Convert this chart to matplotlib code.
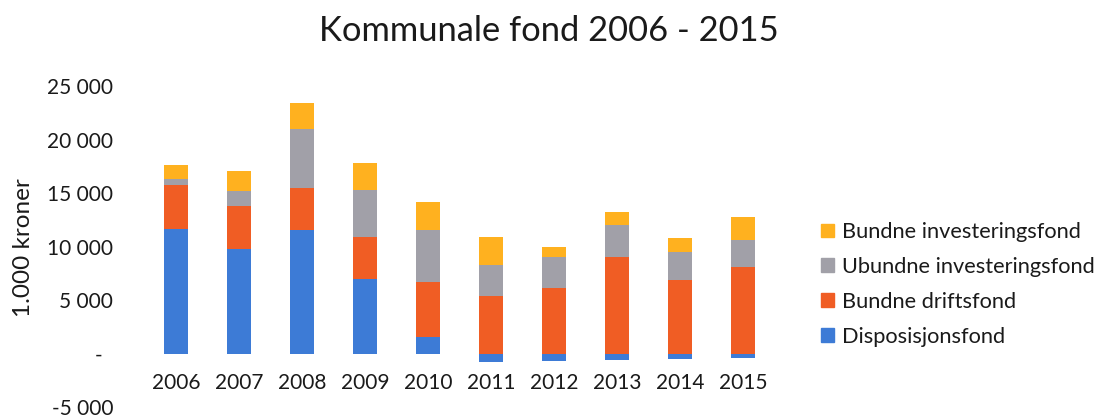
import numpy as np
from matplotlib import pyplot as plt
from matplotlib.patches import Patch

# fund balances per year, in 1.000 kroner
years = ["2006", "2007", "2008", "2009", "2010", "2011", "2012", "2013", "2014", "2015"]
disposisjonsfond = [11600, 9750, 11550, 6950, 1550, -800, -700, -650, -500, -450]
bundne_drift = [4150, 4050, 3950, 3950, 5100, 5350, 6100, 9000, 6850, 8100]
ubundne_inv = [550, 1400, 5450, 4350, 4900, 2900, 2900, 3000, 2650, 2500]
bundne_inv = [1300, 1900, 2450, 2550, 2650, 2600, 1000, 1250, 1300, 2200]

series_names = ["Disposisjonsfond", "Bundne driftsfond",
                "Ubundne investeringsfond", "Bundne investeringsfond"]
colors = ["#3d7bd6", "#f05d24", "#a1a0a8", "#ffb11f"]

ytick_vals = [-5000, 0, 5000, 10000, 15000, 20000, 25000]
ytick_labels = ["-5 000", "-  ", "5 000", "10 000", "15 000", "20 000", "25 000"]

plt.rcParams['font.family'] = ['Lato', 'DejaVu Sans']

fig = plt.figure(figsize=(11.05, 4.19), dpi=100)
ax = fig.add_axes([0.1308, 0.0286, 0.5701, 0.766])

x = np.arange(len(years))
pos_bottom = np.zeros(len(years))
neg_bottom = np.zeros(len(years))
for name, vals, c in zip(series_names,
                         [disposisjonsfond, bundne_drift, ubundne_inv, bundne_inv],
                         colors):
    vals = np.array(vals, dtype=float)
    bottom = np.where(vals >= 0, pos_bottom, neg_bottom)
    ax.bar(x, vals, 0.38, bottom=bottom, color=c, label=name)
    pos_bottom += np.where(vals >= 0, vals, 0)
    neg_bottom += np.where(vals < 0, vals, 0)

ax.set_xlim(-0.5, len(years) - 0.5)
ax.set_ylim(-5000, 25000)
ax.set_yticks(ytick_vals)
ax.set_yticklabels(ytick_labels)
ax.set_xticks(x)
ax.set_xticklabels(years)
ax.spines['bottom'].set_position(('data', 0))
for s in ax.spines.values():
    s.set_visible(False)
ax.tick_params(axis='y', length=0, pad=22.7, labelsize=15, labelcolor="#1a1a1a")
ax.tick_params(axis='x', length=0, pad=14, labelsize=15, labelcolor="#1a1a1a")

fig.text(0.497, 0.925, "Kommunale fond 2006 - 2015", ha="center", va="center",
         fontsize=24.8, color="#1a1a1a")
fig.text(0.021, 0.408, "1.000 kroner", rotation=90, ha="center", va="center",
         fontsize=17.5, color="#1a1a1a")

handles = [Patch(color=c, label=n) for n, c in zip(series_names, colors)][::-1]
fig.legend(handles=handles, loc="center left", bbox_to_anchor=(0.733, 0.321),
           frameon=False, fontsize=15.7, handlelength=0.6, handleheight=0.6,
           handletextpad=0.35, labelspacing=0.68, borderpad=0,
           labelcolor="#1a1a1a")

fig.savefig("out.png", dpi=100)
